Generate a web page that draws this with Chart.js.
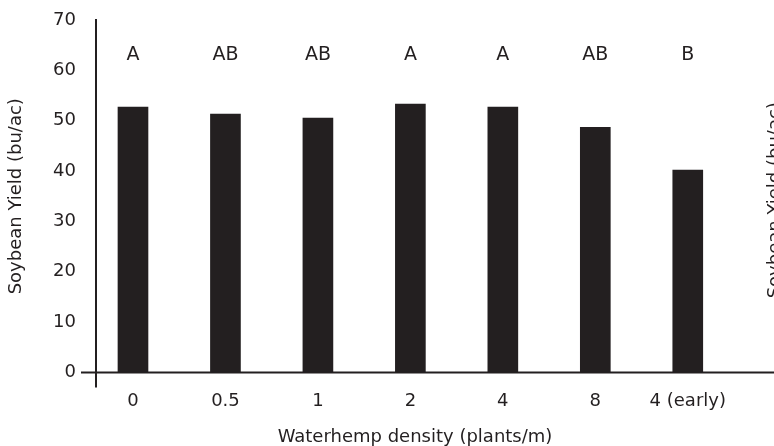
<!DOCTYPE html>
<html>
<head>
<meta charset="utf-8">
<script src="https://cdn.jsdelivr.net/npm/chart.js@4.4.1/dist/chart.umd.min.js"></script>
<style>
  html, body { margin: 0; padding: 0; background: #fff; }
  #wrap { width: 774px; height: 446px; }
</style>
</head>
<body>
<div id="wrap"><canvas id="chart"></canvas></div>
<script>
// data
const densities = ['0', '0.5', '1', '2', '4', '8', '4 (early)'];
const yields = [52.7, 51.3, 50.5, 53.3, 52.7, 48.7, 40.2];
const groups = ['A', 'AB', 'AB', 'A', 'A', 'AB', 'B'];
const yTicks = [0, 10, 20, 30, 40, 50, 60, 70];

const ink = '#231f20';
const fontFamily = '"DejaVu Sans", sans-serif';

// axes cross at the origin, letters sit above the bars
const extras = {
    id: 'extras',
    afterDraw(chart) {
        const ctx = chart.ctx;
        const x = chart.scales.x, y = chart.scales.y;
        const area = chart.chartArea;
        const y0 = y.getPixelForValue(0);
        ctx.save();
        ctx.strokeStyle = ink;
        ctx.lineWidth = 2;
        ctx.beginPath();
        ctx.moveTo(area.left - 15, y0);
        ctx.lineTo(chart.width, y0);
        ctx.moveTo(area.left, area.top - 1);
        ctx.lineTo(area.left, y0 + 15);
        ctx.stroke();

        ctx.fillStyle = ink;
        ctx.font = '19px ' + fontFamily;
        ctx.textAlign = 'center';
        ctx.textBaseline = 'middle';
        groups.forEach((g, i) => {
            ctx.fillText(g, x.getPixelForValue(i), y.getPixelForValue(63));
        });

        // neighbouring panel's axis title, cut by the frame
        ctx.font = '18px ' + fontFamily;
        ctx.textBaseline = 'alphabetic';
        ctx.translate(chart.width + 6, (area.top + y0) / 2 + 4);
        ctx.rotate(-Math.PI / 2);
        ctx.fillText('Soybean Yield (bu/ac)', 0, 0);
        ctx.restore();
    }
};

new Chart(document.getElementById('chart'), {
    type: 'bar',
    data: {
        datasets: [{
            data: yields.map((v, i) => ({ x: i, y: v })),
            backgroundColor: ink,
            barThickness: 30
        }]
    },
    options: {
        responsive: true,
        maintainAspectRatio: false,
        animation: false,
        layout: { padding: { top: 20, right: 40, left: 0, bottom: 0 } },
        plugins: { legend: { display: false }, tooltip: { enabled: false } },
        scales: {
            x: {
                type: 'linear',
                offset: false,
                min: -0.4,
                max: 6.5,
                grid: { display: false, drawTicks: false },
                border: { display: false },
                afterBuildTicks: s => { s.ticks = densities.map((d, i) => ({ value: i })); },
                afterFit: s => { s.height = 73.5; },
                ticks: {
                    autoSkip: false,
                    maxRotation: 0,
                    padding: 18,
                    color: ink,
                    font: { family: fontFamily, size: 18 },
                    callback: v => densities[v]
                },
                title: {
                    display: true,
                    text: 'Waterhemp density (plants/m)',
                    color: ink,
                    padding: 0,
                    font: { family: fontFamily, size: 18, lineHeight: 1 }
                }
            },
            y: {
                min: 0,
                max: 70,
                grid: { display: false, drawTicks: false },
                border: { display: false },
                afterBuildTicks: s => { s.ticks = yTicks.map(v => ({ value: v })); },
                afterFit: s => { s.width = 96; s.paddingTop = 0; s.paddingBottom = 0; },
                ticks: {
                    padding: 20,
                    color: ink,
                    font: { family: fontFamily, size: 18 }
                },
                title: {
                    display: true,
                    text: 'Soybean Yield (bu/ac)',
                    color: ink,
                    padding: 6,
                    font: { family: fontFamily, size: 18 }
                }
            }
        }
    },
    plugins: [extras]
});
</script>
</body>
</html>
